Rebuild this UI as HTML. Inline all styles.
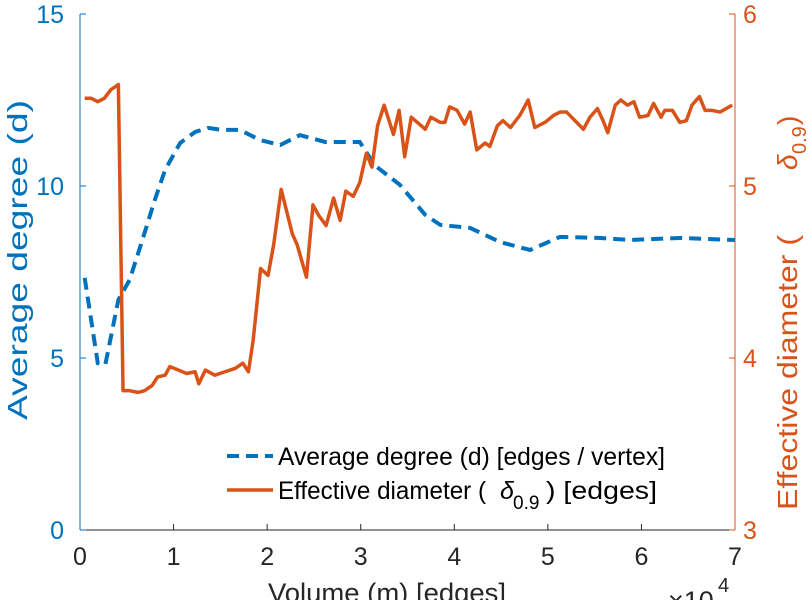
<!DOCTYPE html>
<html><head><meta charset="utf-8"><style>
body{margin:0;background:#fff;overflow:hidden;}
svg{display:block;font-family:"Liberation Sans",sans-serif;}
</style></head><body>
<svg id="chart" width="812" height="600">
  <text transform="translate(27,260) rotate(-90)" text-anchor="middle" font-size="28" fill="#0072BD" textLength="320" lengthAdjust="spacingAndGlyphs">Average degree (d)</text>
  <g transform="translate(797,0) rotate(-90)" fill="#D95319" font-size="28">
    <text x="-510" y="0" textLength="275" lengthAdjust="spacingAndGlyphs">Effective diameter (</text>
    <text x="-170" y="0" font-style="italic">δ</text>
    <text x="-154" y="9" font-size="20">0.9</text>
    <text x="-125" y="0">)</text>
  </g>
  <text x="268" y="602" font-size="27" fill="#262626" textLength="238" lengthAdjust="spacingAndGlyphs">Volume (m) [edges]</text>
  <g fill="#262626">
    <text x="668" y="610" font-size="27">×10</text>
    <text x="718" y="592" font-size="20">4</text>
  </g>
  <g>
    <g>
      <line x1="227" y1="456" x2="273" y2="456" stroke="#0072BD" stroke-width="4" stroke-dasharray="12,7"/>
      <text x="278" y="465" font-size="25" fill="#000" textLength="387" lengthAdjust="spacingAndGlyphs">Average degree (d) [edges / vertex]</text>
    </g>
    <g>
      <line x1="227" y1="490" x2="273" y2="490" stroke="#D95319" stroke-width="3.5"/>
      <text x="278" y="499" font-size="25" fill="#000" textLength="208" lengthAdjust="spacingAndGlyphs">Effective diameter (</text>
      <text x="500" y="499" font-size="25" font-style="italic" fill="#000">δ</text>
      <text x="513" y="509" font-size="19" fill="#000">0.9</text>
      <text x="546" y="499" font-size="25" fill="#000" textLength="111" lengthAdjust="spacingAndGlyphs">) [edges]</text>
    </g>
  </g>
</svg>
<script>
const degX=[0.05,0.19,0.27,0.41,0.53,0.64,0.8,0.91,1.07,1.23,1.37,1.52,1.71,1.92,2.14,2.35,2.62,2.99,3.15,3.42,3.69,3.85,4.17,4.49,4.81,5.13,5.56,5.88,6.41,7.0];
const degY=[7.33,4.85,4.8,6.69,7.27,8.2,9.6,10.47,11.25,11.57,11.69,11.63,11.63,11.34,11.19,11.48,11.28,11.28,10.6,10.03,9.16,8.87,8.78,8.37,8.14,8.52,8.49,8.43,8.49,8.43];
const diaX=[0.05,0.12,0.19,0.26,0.33,0.41,0.46,0.53,0.62,0.69,0.77,0.83,0.91,0.96,1.05,1.14,1.23,1.27,1.34,1.44,1.55,1.66,1.74,1.80,1.85,1.93,2.01,2.07,2.15,2.27,2.32,2.42,2.49,2.55,2.63,2.71,2.78,2.84,2.92,2.99,3.06,3.12,3.18,3.25,3.35,3.41,3.47,3.54,3.69,3.75,3.85,3.90,3.95,4.03,4.11,4.17,4.24,4.33,4.38,4.46,4.52,4.60,4.70,4.79,4.86,4.97,5.06,5.13,5.20,5.29,5.38,5.45,5.53,5.59,5.64,5.72,5.78,5.85,5.92,5.98,6.07,6.13,6.21,6.25,6.33,6.41,6.48,6.54,6.62,6.68,6.75,6.84,6.97];
const diaY=[5.51,5.51,5.49,5.51,5.56,5.59,3.81,3.81,3.80,3.81,3.84,3.89,3.90,3.95,3.93,3.91,3.92,3.85,3.93,3.90,3.92,3.94,3.97,3.92,4.10,4.52,4.48,4.66,4.98,4.72,4.66,4.47,4.89,4.83,4.77,4.93,4.80,4.97,4.94,5.02,5.19,5.11,5.35,5.47,5.30,5.44,5.17,5.40,5.33,5.40,5.37,5.37,5.46,5.44,5.36,5.43,5.21,5.25,5.23,5.35,5.38,5.34,5.41,5.50,5.34,5.37,5.41,5.43,5.43,5.38,5.33,5.40,5.45,5.38,5.31,5.47,5.50,5.47,5.49,5.40,5.41,5.48,5.40,5.44,5.44,5.37,5.38,5.47,5.52,5.44,5.44,5.43,5.47];
const xTicks=[0,1,2,3,4,5,6,7];
const yLTicks=[0,5,10,15];
const yRTicks=[3,4,5,6];

const L=80,R=735,T=14,B=530;
const sx=v=>L+(v-0)/7*(R-L);
const syL=v=>B-(v/15)*(B-T);
const syR=v=>B-((v-3)/3)*(B-T);
const svg=document.getElementById('chart');
const NS='http://www.w3.org/2000/svg';
function mk(tag,attrs,parent){const e=document.createElementNS(NS,tag);for(const k in attrs)e.setAttribute(k,attrs[k]);(parent||svg).appendChild(e);return e;}
const BLUE='#0072BD',ORG='#D95319';

const xa=mk('g',{});


mk('line',{x1:L,y1:B,x2:R,y2:B,stroke:'#262626','stroke-width':1},xa);
xTicks.forEach(t=>{
  mk('line',{x1:sx(t),y1:B,x2:sx(t),y2:B-6,stroke:'#262626'},xa);
  const tx=mk('text',{x:sx(t),y:B+35,'text-anchor':'middle','font-size':25,fill:'#262626'},xa);
  tx.textContent=t;
  
  
});
const yl=mk('g',{});


mk('line',{x1:L,y1:T,x2:L,y2:B,stroke:BLUE,'stroke-width':1},yl);
yLTicks.forEach(t=>{
  mk('line',{x1:L,y1:syL(t),x2:L+6,y2:syL(t),stroke:BLUE},yl);
  const tx=mk('text',{x:L-16,y:syL(t)+9,'text-anchor':'end','font-size':25,fill:BLUE},yl);
  tx.textContent=t;
  
  
});
const yr=mk('g',{});


mk('line',{x1:R,y1:T,x2:R,y2:B,stroke:ORG,'stroke-width':1},yr);
yRTicks.forEach(t=>{
  mk('line',{x1:R,y1:syR(t),x2:R-6,y2:syR(t),stroke:ORG},yr);
  const tx=mk('text',{x:R+8,y:syR(t)+9,'font-size':25,fill:ORG},yr);
  tx.textContent=t;
  
  
});
const pd=mk('polyline',{points:degX.map((x,i)=>sx(x)+','+syL(degY[i])).join(' '),fill:'none',stroke:BLUE,'stroke-width':4,'stroke-dasharray':'12,7'});


const pr=mk('polyline',{points:diaX.map((x,i)=>sx(x)+','+syR(diaY[i])).join(' '),fill:'none',stroke:ORG,'stroke-width':3.5,'stroke-linejoin':'round'});


</script>
</body></html>
